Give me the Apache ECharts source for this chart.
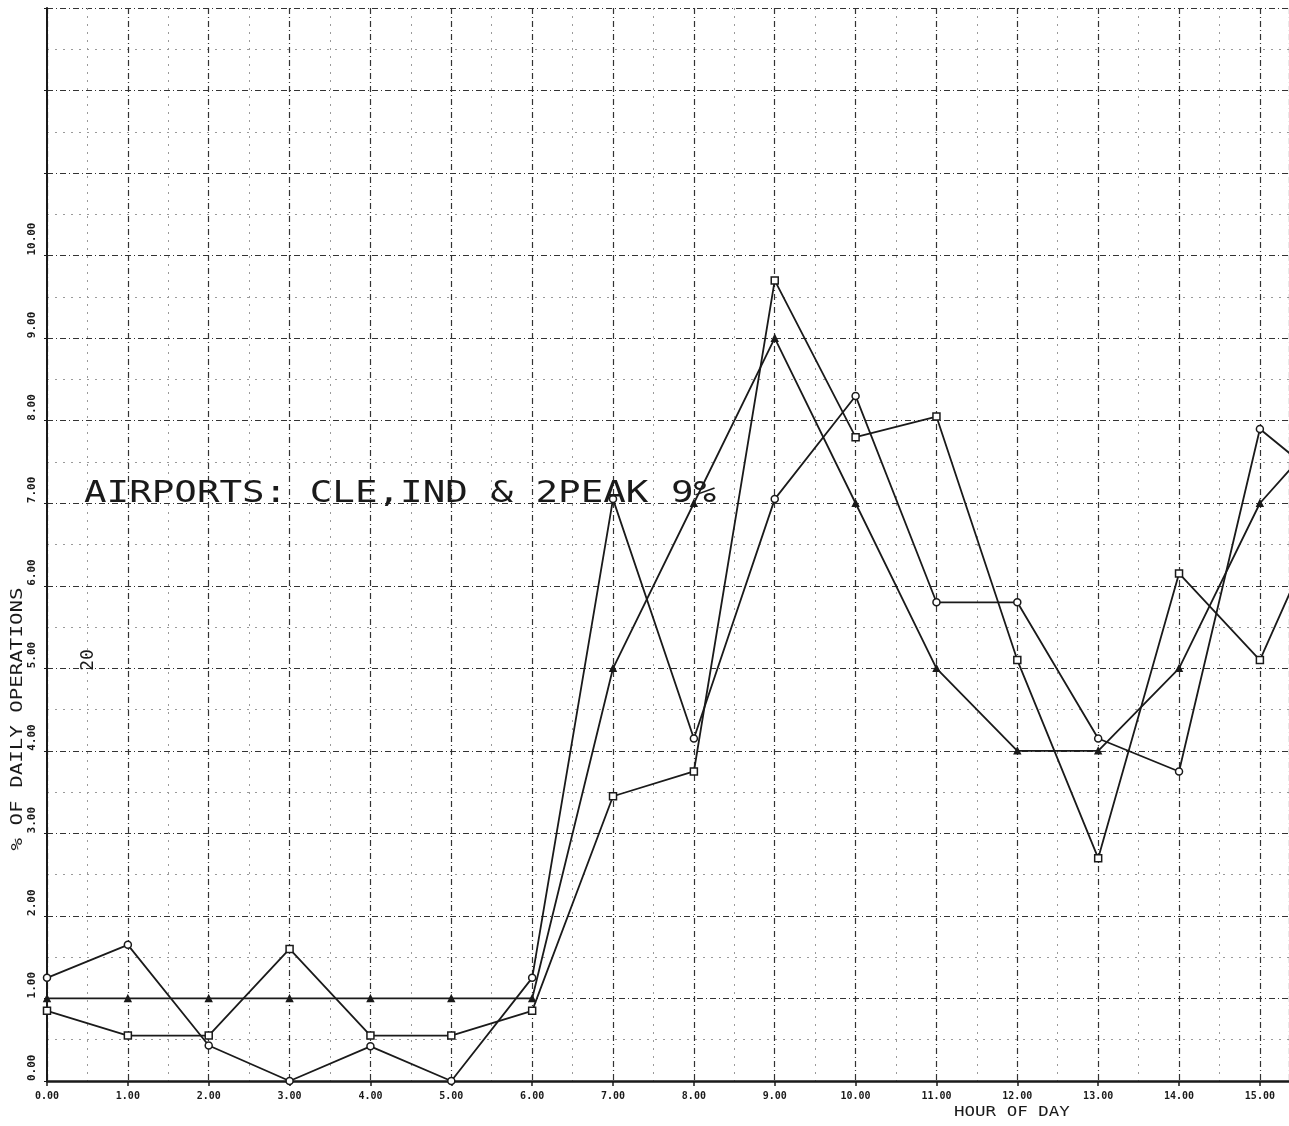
<!DOCTYPE html>
<html>
<head>
<meta charset="utf-8">
<script src="https://cdn.jsdelivr.net/npm/echarts@6/dist/echarts.min.js"></script>
<style>
  html, body { margin: 0; padding: 0; background: #fff; }
  #chart { width: 1289px; height: 1126px; }
</style>
</head>
<body>
<div id="chart"></div>
<script>
// hour of day (16 is only the continuation past the right edge)
const hours = [0, 1, 2, 3, 4, 5, 6, 7, 8, 9, 10, 11, 12, 13, 14, 15, 16];

// % of daily operations
const circleSeries = [1.25, 1.65, 0.43, 0.0, 0.42, 0.0, 1.25, 7.05, 4.15, 7.05, 8.3, 5.8, 5.8, 4.15, 3.75, 7.9, 7.1];
const squareSeries = [0.85, 0.55, 0.55, 1.6, 0.55, 0.55, 0.85, 3.45, 3.75, 9.7, 7.8, 8.05, 5.1, 2.7, 6.15, 5.1, 7.3];
const peakSeries   = [1, 1, 1, 1, 1, 1, 1, 5, 7, 9, 7, 5, 4, 4, 5, 7, 8.1];

const yTickMax = 10;

const ink = '#1a1a1a';
const plotFont = 'DejaVu Sans Mono';

const pairs = (vals) => hours.map((h, i) => [h, vals[i]]);

const lineSeries = (name, vals, symbol, size, filled) => ({
  name: name,
  type: 'line',
  data: pairs(vals),
  symbol: symbol,
  symbolSize: size,
  clip: true,
  lineStyle: { color: ink, width: 1.8 },
  itemStyle: { color: filled ? ink : '#fff', borderColor: ink, borderWidth: 1.5 },
  z: 5
});

const chart = echarts.init(document.getElementById('chart'));

chart.setOption({
  backgroundColor: '#fff',
  animation: false,
  grid: { left: 47, right: 0, top: 8, bottom: 45, containLabel: false },
  xAxis: {
    type: 'value',
    min: 0,
    max: 15.36,
    interval: 1,
    axisLine: { show: true, onZero: false, lineStyle: { color: ink, width: 2.5 } },
    axisTick: { show: true, length: 5, lineStyle: { color: ink, width: 1.5 } },
    axisLabel: {
      margin: 10,
      color: ink,
      fontFamily: plotFont,
      fontWeight: 'bold',
      fontSize: 10,
      formatter: (v) => v.toFixed(2)
    },
    splitLine: { show: true, lineStyle: { color: '#333', width: 1.2, type: [6, 3, 1, 3] } },
    minorTick: { show: false, splitNumber: 2 },
    minorSplitLine: { show: true, lineStyle: { color: '#9a9a9a', width: 1, type: [2, 6] } }
  },
  yAxis: {
    type: 'value',
    min: 0,
    max: 13,
    interval: 1,
    axisLine: { show: true, onZero: false, lineStyle: { color: ink, width: 2 } },
    axisTick: { show: true, length: 3, lineStyle: { color: ink } },
    axisLabel: {
      rotate: 90,
      align: 'left',
      verticalAlign: 'middle',
      margin: 15,
      color: ink,
      fontFamily: plotFont,
      fontWeight: 'bold',
      fontSize: 11,
      formatter: (v) => (v > yTickMax ? '' : v.toFixed(2))
    },
    splitLine: { show: true, lineStyle: { color: '#333', width: 1.2, type: [6, 3, 1, 3] } },
    minorTick: { show: false, splitNumber: 2 },
    minorSplitLine: { show: true, lineStyle: { color: '#9a9a9a', width: 1, type: [2, 6] } }
  },
  series: [
    lineSeries('CLE', circleSeries, 'circle', 7, false),
    lineSeries('IND', squareSeries, 'rect', 7, false),
    lineSeries('2PEAK 9%', peakSeries, 'triangle', 6, true)
  ],
  graphic: [
    {
      type: 'text',
      x: 84, y: 494,
      scaleX: 1.25,
      style: {
        text: 'AIRPORTS: CLE,IND & 2PEAK 9%',
        font: '30px "DejaVu Sans Mono"',
        fill: ink,
        textVerticalAlign: 'middle'
      },
      z: 10
    },
    {
      type: 'text',
      x: 18, y: 719,
      rotation: Math.PI / 2,
      scaleX: 1.3,
      style: {
        text: '% OF DAILY OPERATIONS',
        font: '16px "DejaVu Sans Mono"',
        fill: ink,
        textAlign: 'center',
        textVerticalAlign: 'middle'
      },
      z: 10
    },
    {
      type: 'text',
      x: 88, y: 660,
      rotation: Math.PI / 2,
      style: {
        text: '20',
        font: '18px "DejaVu Sans Mono"',
        fill: ink,
        textAlign: 'center',
        textVerticalAlign: 'middle'
      },
      z: 10
    },
    {
      type: 'text',
      x: 954, y: 1112,
      scaleX: 1.25,
      style: {
        text: 'HOUR OF DAY',
        font: '14px "DejaVu Sans Mono"',
        fill: ink,
        textVerticalAlign: 'middle'
      },
      z: 10
    }
  ]
});
</script>
</body>
</html>
